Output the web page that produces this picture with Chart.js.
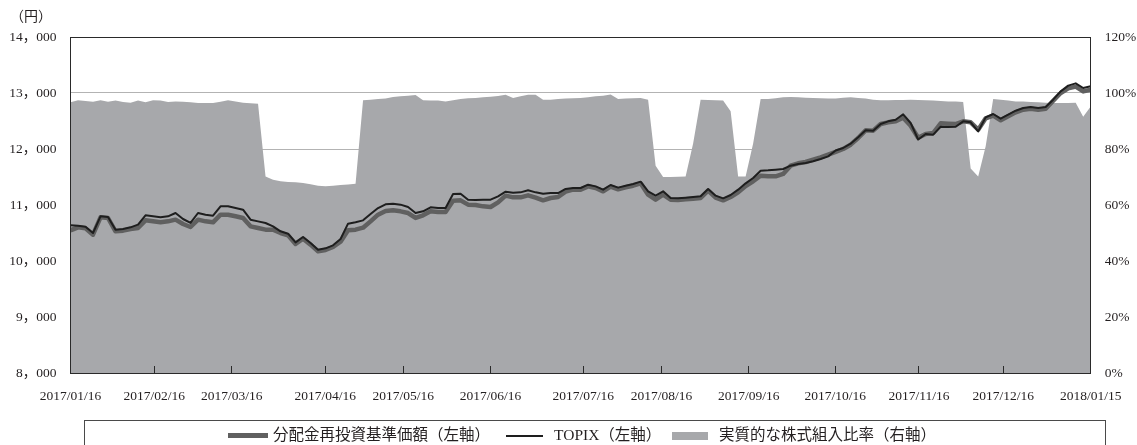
<!DOCTYPE html>
<html>
<head>
<meta charset="utf-8">
<script src="https://cdn.jsdelivr.net/npm/chart.js@4.4.1/dist/chart.umd.min.js"></script>
<style>
html,body{margin:0;padding:0;background:#fff;overflow:hidden;}
#wrap{position:relative;width:1137px;height:445px;}
#c{position:absolute;left:0;top:0;}
.t{position:absolute;font-family:"Liberation Serif","Noto Sans CJK JP",serif;color:#231f20;white-space:nowrap;line-height:1;}
.sw{position:absolute;}
#legendBox{position:absolute;left:84px;top:420px;width:1022px;height:40px;border:1px solid #4a4a4a;box-sizing:border-box;}
</style>
</head>
<body>
<div id="wrap">
<canvas id="c" width="1137" height="445"></canvas>
<div class="t" style="left:10px;top:10px;font-size:14px;">（円）</div>
<div id="legendBox"></div>
<div class="sw" style="left:228px;top:433px;width:40px;height:5px;background:#606060;"></div>
<div class="t" style="left:273px;top:427px;font-size:15.5px;">分配金再投資基準価額（左軸）</div>
<div class="sw" style="left:506px;top:435px;width:37px;height:2px;background:#1e1e1e;"></div>
<div class="t" style="left:554px;top:427px;font-size:15.5px;">TOPIX（左軸）</div>
<div class="sw" style="left:672px;top:432px;width:36px;height:8px;background:#a7a8ab;"></div>
<div class="t" style="left:719px;top:427px;font-size:15.5px;">実質的な株式組入比率（右軸）</div>
</div>
<script>
// ---- data (one value per sampling step along the period) ----
const topix = [
10640,10631,10613,10500,10798,10786,10560,10572,10601,10649,
10816,10798,10780,10798,10857,10750,10679,10857,10827,10810,
10976,10976,10946,10917,10738,10708,10679,10619,10530,10488,
10333,10429,10322,10202,10226,10280,10393,10667,10691,10726,
10839,10946,11012,11024,11006,10964,10857,10887,10958,10946,
10946,11196,11202,11095,11089,11095,11095,11155,11238,11220,
11226,11262,11226,11202,11214,11214,11286,11304,11304,11363,
11333,11274,11357,11310,11345,11375,11417,11244,11167,11244,
11125,11119,11131,11143,11155,11286,11167,11119,11179,11274,
11387,11482,11613,11619,11631,11643,11702,11732,11750,11780,
11821,11869,11973,12018,12095,12208,12333,12327,12446,12494,
12523,12620,12464,12170,12268,12256,12398,12393,12398,12494,
12476,12315,12565,12625,12541,12613,12684,12732,12750,12732,
12750,12881,13029,13131,13172,13089,13119
];
const nav = [
10548,10601,10583,10470,10780,10768,10530,10542,10572,10589,
10726,10708,10691,10708,10738,10661,10607,10738,10708,10691,
10827,10827,10798,10768,10619,10589,10560,10560,10500,10458,
10304,10399,10292,10173,10197,10250,10345,10548,10560,10595,
10708,10827,10893,10905,10887,10857,10768,10816,10887,10875,
10875,11077,11083,11006,11000,10976,10964,11048,11167,11137,
11137,11173,11131,11083,11125,11143,11238,11274,11274,11333,
11304,11244,11327,11280,11316,11345,11387,11185,11095,11185,
11095,11089,11101,11113,11125,11256,11131,11083,11143,11226,
11339,11423,11524,11512,11512,11554,11702,11744,11768,11810,
11851,11899,11950,12000,12077,12196,12333,12327,12446,12476,
12494,12560,12416,12200,12268,12285,12458,12452,12446,12494,
12476,12345,12547,12595,12512,12583,12654,12702,12720,12702,
12720,12863,13000,13083,13113,13029,13059
];
const equityRatio = [
96.7,97.4,97.1,96.9,97.4,96.9,97.3,96.8,96.5,97.3,
96.7,97.4,97.3,96.8,97.0,96.9,96.7,96.4,96.4,96.4,
96.9,97.4,97.0,96.5,96.3,96.2,70.2,69.0,68.5,68.2,
68.1,67.9,67.4,66.9,66.7,66.9,67.1,67.3,67.6,97.4,
97.6,97.9,98.0,98.6,98.8,99.0,99.3,97.4,97.3,97.3,
97.0,97.4,97.9,98.1,98.2,98.5,98.7,98.9,99.4,98.2,
98.8,99.4,99.4,97.6,97.6,97.9,98.0,98.1,98.2,98.5,
98.8,99.0,99.5,97.9,98.0,98.1,98.2,97.6,74.0,70.0,
70.0,70.1,70.2,82.0,97.6,97.5,97.4,97.3,93.5,70.2,
70.2,82.0,97.9,97.9,98.1,98.5,98.6,98.5,98.3,98.2,
98.1,98.0,98.0,98.3,98.5,98.2,98.0,97.6,97.4,97.4,
97.5,97.5,97.6,97.5,97.4,97.3,97.1,97.0,97.0,96.8,
73.0,70.2,81.0,97.9,97.6,97.3,97.0,97.0,96.8,96.7,
96.5,96.4,96.4,96.4,96.5,91.5,95.2
];
const tickLabels = ['2017/01/16','2017/02/16','2017/03/16','2017/04/16','2017/05/16','2017/06/16','2017/07/16','2017/08/16','2017/09/16','2017/10/16','2017/11/16','2017/12/16','2018/01/15'];
const tickPos = [0,11.17,21.49,33.95,44.37,56.0,68.36,78.77,90.41,101.95,113.1,124.33,136];
const yenTicks = [8000,9000,10000,11000,12000,13000,14000];
const pctTicks = [0,20,40,60,80,100,120];

const steps = topix.map((_, i) => i);
const FONT = {family:'"Liberation Serif","Noto Sans CJK JP",serif', size:13.5};
const TXT = '#231f20';

const framePlugin = {
  id:'frame',
  afterDatasetsDraw(chart){
    const {ctx, chartArea:a, scales} = chart;
    ctx.save();
    ctx.strokeStyle = '#2a2a2a';
    ctx.lineWidth = 1;
    // inward tick marks on the date axis
    ctx.beginPath();
    tickPos.forEach(v => {
      const px = Math.floor(scales.x.getPixelForValue(v)) + 0.5;
      ctx.moveTo(px, Math.floor(a.bottom) + 0.5);
      ctx.lineTo(px, Math.floor(a.bottom) - 7);
    });
    ctx.stroke();
    const l = Math.floor(a.left)+0.5, r = Math.floor(a.right)+0.5;
    const t = Math.floor(a.top)+0.5, b = Math.floor(a.bottom)+0.5;
    ctx.strokeRect(l, t, r-l, b-t);
    ctx.restore();
  }
};

new Chart(document.getElementById('c'), {
  type:'line',
  data:{
    labels: steps,
    datasets:[
      {label:'分配金再投資基準価額（左軸）', data:nav, yAxisID:'y', borderColor:'#606060', borderWidth:4.5,
       pointRadius:0, tension:0, fill:false, order:2, borderJoinStyle:'round'},
      {label:'TOPIX（左軸）', data:topix, yAxisID:'y', borderColor:'#1e1e1e', borderWidth:2,
       pointRadius:0, tension:0, fill:false, order:1, borderJoinStyle:'round'},
      {label:'実質的な株式組入比率（右軸）', data:equityRatio, yAxisID:'y2', borderColor:'rgba(0,0,0,0)', borderWidth:0,
       backgroundColor:'#a7a8ab', pointRadius:0, tension:0, fill:'start', order:3}
    ]
  },
  options:{
    responsive:false,
    animation:false,
    devicePixelRatio:1,
    layout:{padding:{top:37,left:0,right:0,bottom:0}},
    plugins:{legend:{display:false}, tooltip:{enabled:false}},
    scales:{
      x:{
        type:'linear', min:0, max:steps.length-1, bounds:'data',
        afterBuildTicks:s => { s.ticks = tickPos.map(v => ({value:v})); },
        afterFit:s => { s.height = 72; },
        grid:{display:false, drawTicks:false}, border:{display:false},
        ticks:{autoSkip:false, maxRotation:0, minRotation:0, padding:15, color:TXT, font:FONT,
               callback:(v, i) => tickLabels[i]}
      },
      y:{
        position:'left', min:8000, max:14000,
        afterBuildTicks:s => { s.ticks = yenTicks.map(v => ({value:v})); },
        afterFit:s => { s.width = 70.5; },
        grid:{color:'#b3b3b3', lineWidth:1, drawTicks:false}, border:{display:false},
        ticks:{padding:14, color:TXT, font:FONT,
               callback:v => Math.floor(v/1000) + '，' + String(v % 1000).padStart(3,'0')}
      },
      y2:{
        position:'right', min:0, max:120,
        afterBuildTicks:s => { s.ticks = pctTicks.map(v => ({value:v})); },
        afterFit:s => { s.width = 1137 - 1090.7; },
        grid:{display:false, drawTicks:false}, border:{display:false},
        ticks:{padding:14, color:TXT, font:FONT, callback:v => v + '%'}
      }
    }
  },
  plugins:[framePlugin]
});
</script>
</body>
</html>
